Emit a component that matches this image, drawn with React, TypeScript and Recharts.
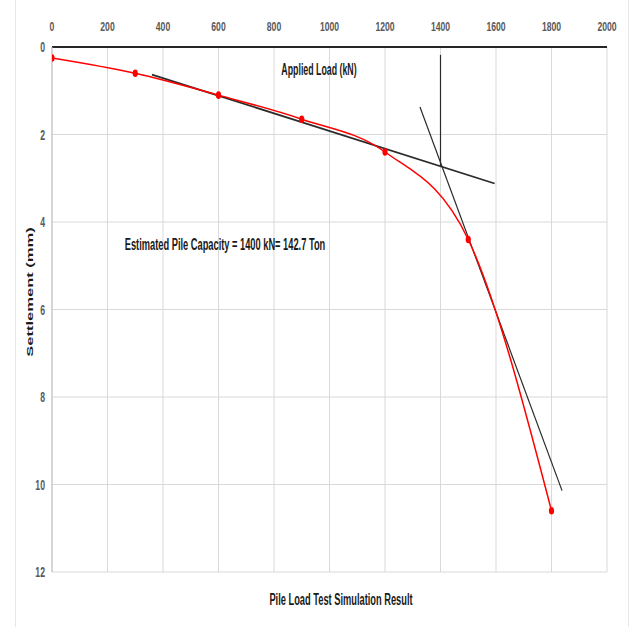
import React from 'react'
import {
  ComposedChart,
  Line,
  XAxis,
  YAxis,
  CartesianGrid,
} from 'recharts'

const loads = [0, 300, 600, 900, 1200, 1500, 1800]
const settlements = [0.25, 0.6, 1.1, 1.65, 2.4, 4.4, 10.6]

const tangentLoads = [360, 1595]
const tangentSettlements = [0.63, 3.12]

const steepLoads = [1326, 1838]
const steepSettlements = [1.37, 10.14]

const capacityLoads = [1400, 1400]
const capacitySettlements = [0.18, 2.72]

const xTicks = [0, 200, 400, 600, 800, 1000, 1200, 1400, 1600, 1800, 2000]
const yTicks = [0, 2, 4, 6, 8, 10, 12]

const toPoints = (xs: number[], ys: number[]) => xs.map((x, i) => ({ x, y: ys[i] }))

const testData = toPoints(loads, settlements)
const tangentData = toPoints(tangentLoads, tangentSettlements)
const steepData = toPoints(steepLoads, steepSettlements)
const capacityData = toPoints(capacityLoads, capacitySettlements)

const FONT = '"Liberation Sans", Arial, sans-serif'

function XTick({ x, y, payload }: any) {
  return (
    <text
      transform={`translate(${x},${y}) scale(0.64,1)`}
      textAnchor="middle"
      fontFamily={FONT}
      fontSize={13.5}
      fontWeight="bold"
      fill="#595959"
    >
      {payload.value}
    </text>
  )
}

function YTick({ x, y, payload }: any) {
  return (
    <text
      transform={`translate(${x},${y}) scale(0.62,1)`}
      textAnchor="end"
      dy="0.36em"
      fontFamily={FONT}
      fontSize={14}
      fontWeight="bold"
      fill="#595959"
    >
      {payload.value}
    </text>
  )
}

function RedDot({ cx, cy }: any) {
  if (cx == null || cy == null) return null
  return <ellipse cx={cx} cy={cy} rx={2.6} ry={3.8} fill="#ff0000" />
}

const overlay = (left: number, top: number, size: number, scale: number): React.CSSProperties => ({
  position: 'absolute',
  left,
  top,
  transform: `translate(-50%, -50%) scaleX(${scale})`,
  whiteSpace: 'nowrap',
  fontFamily: FONT,
  fontSize: size,
  fontWeight: 'bold',
  color: '#1a1a1a',
})

export default function App() {
  return (
    <div
      style={{
        position: 'absolute',
        left: 0,
        top: 0,
        width: 634,
        height: 627,
        background: '#fff',
      }}
    >
      <div
        style={{
          position: 'absolute',
          left: 15,
          top: 0,
          width: 612,
          height: 627,
          borderLeft: '1px solid #e6e6e6',
          borderRight: '1px solid #e6e6e6',
        }}
      />
      <ComposedChart
        width={634}
        height={627}
        margin={{ top: 17, right: 27, bottom: 55, left: 0 }}
      >
        <CartesianGrid stroke="#d9d9d9" />
        <XAxis
          type="number"
          dataKey="x"
          orientation="top"
          domain={[0, 2000]}
          ticks={xTicks}
          height={30}
          tickSize={0}
          tickMargin={16}
          tick={<XTick />}
          axisLine={{ stroke: '#262626', strokeWidth: 2 }}
          tickLine={false}
          allowDataOverflow
        />
        <YAxis
          type="number"
          dataKey="y"
          reversed
          domain={[0, 12]}
          ticks={yTicks}
          width={52}
          tickSize={0}
          tickMargin={7}
          tick={<YTick />}
          axisLine={{ stroke: '#bfbfbf' }}
          tickLine={false}
          allowDataOverflow
        />
        <Line
          data={tangentData}
          dataKey="y"
          type="linear"
          stroke="#2b2b2b"
          strokeWidth={1.8}
          dot={false}
          isAnimationActive={false}
        />
        <Line
          data={steepData}
          dataKey="y"
          type="linear"
          stroke="#2b2b2b"
          strokeWidth={1.2}
          dot={false}
          isAnimationActive={false}
        />
        <Line
          data={capacityData}
          dataKey="y"
          type="linear"
          stroke="#2b2b2b"
          strokeWidth={1.2}
          dot={false}
          isAnimationActive={false}
        />
        <Line
          data={testData}
          dataKey="y"
          type="monotone"
          stroke="#ff0000"
          strokeWidth={1.5}
          dot={<RedDot />}
          activeDot={false}
          isAnimationActive={false}
        />
      </ComposedChart>

      <div style={overlay(319, 70, 16, 0.55)}>Applied Load (kN)</div>
      <div style={overlay(225, 245, 16, 0.58)}>Estimated Pile Capacity = 1400 kN= 142.7 Ton</div>
      <div style={overlay(341, 600, 16, 0.58)}>Pile Load Test Simulation Result</div>
      <div
        style={{
          position: 'absolute',
          left: 30,
          top: 292,
          transform: 'translate(-50%, -50%) scaleX(0.55) rotate(-90deg)',
          whiteSpace: 'nowrap',
          fontFamily: FONT,
          fontSize: 16.5,
          fontWeight: 'bold',
          color: '#1a1a1a',
        }}
      >
        Settlement (mm)
      </div>
    </div>
  )
}
